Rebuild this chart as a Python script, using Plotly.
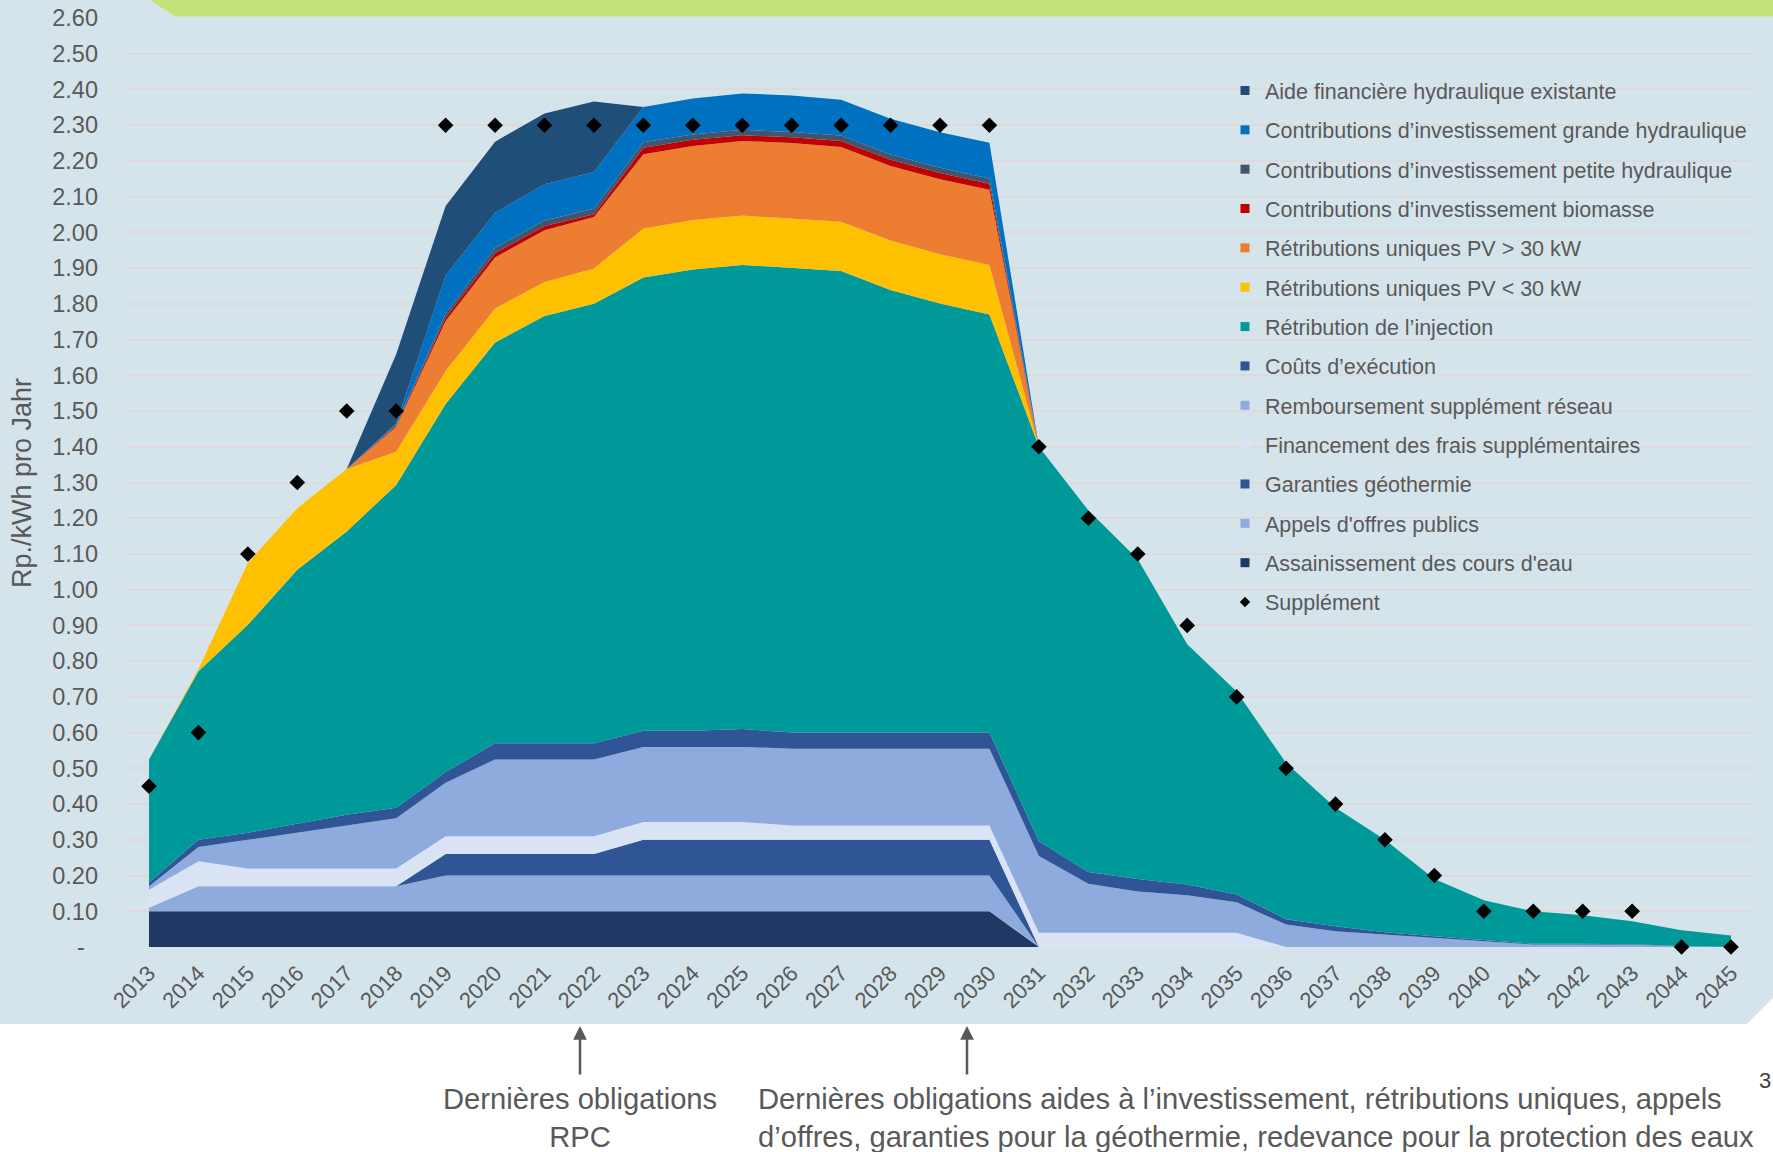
import plotly.graph_objects as go

# ---------------- data ----------------
years = list(range(2013, 2046))

assainissement = [0.10] * 18 + [0] * 15
appels_offres = [0.01, 0.07, 0.07, 0.07, 0.07, 0.07] + [0.10] * 12 + [0] * 15
garanties_geo = [0] * 6 + [0.06] * 4 + [0.10] * 8 + [0] * 15
financement = [0.05, 0.07, 0.05, 0.05, 0.05, 0.05, 0.05, 0.05, 0.05, 0.05, 0.05, 0.05, 0.05,
               0.04, 0.04, 0.04, 0.04, 0.04,
               0.04, 0.04, 0.04, 0.04, 0.04,
               0, 0, 0, 0, 0, 0, 0, 0, 0, 0]
remboursement = [0.01, 0.04, 0.08, 0.10, 0.12, 0.14, 0.15, 0.215, 0.215, 0.215, 0.21, 0.21, 0.21,
                 0.215, 0.215, 0.215, 0.215, 0.215,
                 0.215, 0.137, 0.115, 0.105, 0.085,
                 0.063, 0.044, 0.035, 0.025, 0.015, 0.007, 0.007, 0.006, 0.002, 0]
couts_execution = [0.01, 0.02, 0.02, 0.025, 0.03, 0.03, 0.03, 0.045, 0.045, 0.045, 0.045, 0.045, 0.05,
                   0.045, 0.045, 0.045, 0.045, 0.045,
                   0.041, 0.033, 0.035, 0.03, 0.022,
                   0.015, 0.014, 0.006, 0.005, 0.004, 0.002, 0.002, 0.002, 0.001, 0]
injection = [0.345, 0.472, 0.582, 0.711, 0.793, 0.903, 1.03, 1.122, 1.196, 1.23, 1.269, 1.291, 1.299,
             1.301, 1.292, 1.239, 1.201, 1.17,
             1.104, 1.012, 0.895, 0.672, 0.568,
             0.437, 0.332, 0.259, 0.16, 0.112, 0.091, 0.08, 0.064, 0.044, 0.032]
pv_petit = [0, 0.005, 0.173, 0.172, 0.175, 0.093, 0.092, 0.095, 0.095, 0.099, 0.137, 0.139, 0.138,
            0.138, 0.138, 0.138, 0.138, 0.139] + [0] * 15
pv_grand = [0, 0, 0, 0, 0, 0.07, 0.14, 0.143, 0.145, 0.144, 0.208, 0.207, 0.209,
            0.211, 0.209, 0.209, 0.21, 0.21] + [0] * 15
biomasse = [0, 0, 0, 0, 0, 0.003, 0.01, 0.012, 0.012, 0.008, 0.018, 0.017, 0.016,
            0.016, 0.017, 0.017, 0.017, 0.017] + [0] * 15
petite_hydro = [0, 0, 0, 0, 0, 0.003, 0.01, 0.015, 0.015, 0.015, 0.015, 0.015, 0.015,
                0.015, 0.015, 0.015, 0.015, 0.015] + [0] * 15
grande_hydro = [0, 0, 0, 0, 0, 0.003, 0.107, 0.098, 0.102, 0.103, 0.099, 0.101, 0.102,
                0.102, 0.10, 0.10, 0.099, 0.10] + [0] * 15
aide_hydro = [0, 0, 0, 0, 0, 0.194, 0.195, 0.199, 0.198, 0.197] + [0] * 23
supplement = [0.45, 0.60, 1.10, 1.30, 1.50, 1.50] + [2.30] * 12 + \
             [1.40, 1.20, 1.10, 0.90, 0.70, 0.50, 0.40, 0.30, 0.20, 0.10, 0.10, 0.10, 0.10, 0.0, 0.0]

y_tick_labels = ["-", "0.10", "0.20", "0.30", "0.40", "0.50", "0.60", "0.70", "0.80", "0.90",
                 "1.00", "1.10", "1.20", "1.30", "1.40", "1.50", "1.60", "1.70", "1.80", "1.90",
                 "2.00", "2.10", "2.20", "2.30", "2.40", "2.50", "2.60"]

# stacking order: bottom -> top
series = [
    ("Assainissement des cours d'eau", assainissement, "#203864"),
    ("Appels d'offres publics", appels_offres, "#8FAADC"),
    ("Garanties géothermie", garanties_geo, "#2F5597"),
    ("Financement des frais supplémentaires", financement, "#DAE3F3"),
    ("Remboursement supplément réseau", remboursement, "#8FAADC"),
    ("Coûts d’exécution", couts_execution, "#2F5597"),
    ("Rétribution de l’injection", injection, "#009999"),
    ("Rétributions uniques PV < 30 kW", pv_petit, "#FFC000"),
    ("Rétributions uniques PV > 30 kW", pv_grand, "#ED7D31"),
    ("Contributions d’investissement biomasse", biomasse, "#C00000"),
    ("Contributions d’investissement petite hydraulique", petite_hydro, "#44546A"),
    ("Contributions d’investissement grande hydraulique", grande_hydro, "#0070C0"),
    ("Aide financière hydraulique existante", aide_hydro, "#1F4E79"),
]

# ---------------- geometry ----------------
W, H = 1773, 1152
ML, MR, MT, MB = 126, 19, 18, 205
PW, PH = W - ML - MR, H - MT - MB


def px2x(px):
    return (px - ML) / PW


def py2y(py):
    return (H - MB - py) / PH


GREY = "#595959"
FONT = "Liberation Sans, Arial, sans-serif"

fig = go.Figure()

for name, vals, col in series:
    fig.add_trace(go.Scatter(
        x=years, y=vals, name=name, stackgroup="one", mode="lines",
        line=dict(width=0, color=col), fillcolor=col, showlegend=False,
        hoverinfo="x+y+name",
    ))

fig.add_trace(go.Scatter(
    x=years, y=supplement, name="Supplément", mode="markers", cliponaxis=False,
    marker=dict(symbol="diamond", size=12, color="black"), showlegend=False,
))

# legend entries (top -> bottom)
for i, (name, vals, col) in enumerate(reversed(series)):
    fig.add_trace(go.Scatter(
        x=[None], y=[None], name=name, mode="markers", legendgroup=f"g{i}",
        marker=dict(symbol="square", size=9, color=col),
    ))
fig.add_trace(go.Scatter(
    x=[None], y=[None], name="Supplément", mode="markers", legendgroup="gs",
    marker=dict(symbol="diamond", size=8, color="black"),
))

shapes = [
    dict(type="path", xref="paper", yref="paper", layer="below",
         path=(f"M{px2x(0)},{py2y(0)} L{px2x(W)},{py2y(0)} L{px2x(W)},{py2y(998)} "
               f"L{px2x(1747)},{py2y(1024)} L{px2x(0)},{py2y(1024)} Z"),
         fillcolor="#D5E4EA", line=dict(width=0)),
    dict(type="path", xref="paper", yref="paper", layer="below",
         path=(f"M{px2x(150)},{py2y(0)} L{px2x(W)},{py2y(0)} L{px2x(W)},{py2y(16.5)} "
               f"L{px2x(175)},{py2y(16.5)} Z"),
         fillcolor="#C5E17A", line=dict(width=0)),
]

annotations = [
    dict(text="Rp./kWh pro Jahr", xref="paper", yref="paper", x=px2x(22), y=py2y(483),
         textangle=-90, showarrow=False, xanchor="center", yanchor="middle",
         font=dict(family=FONT, size=27, color=GREY)),
    dict(text="Dernières obligations<br>RPC", xref="paper", yref="paper",
         x=px2x(580), y=py2y(1118), xanchor="center", yanchor="middle", align="center",
         showarrow=False, font=dict(family=FONT, size=29.2, color=GREY)),
    dict(text=("Dernières obligations aides à l’investissement, rétributions uniques, appels<br>"
               "d’offres, garanties pour la géothermie, redevance pour la protection des eaux"),
         xref="paper", yref="paper", x=px2x(756), y=py2y(1118), xanchor="left",
         yanchor="middle", align="left", showarrow=False,
         font=dict(family=FONT, size=29.2, color=GREY)),
    dict(text="", xref="paper", yref="paper", x=px2x(580), y=py2y(1026), ax=0, ay=50,
         showarrow=True, arrowhead=2, arrowsize=1.1, arrowwidth=2.5, arrowcolor=GREY),
    dict(text="", xref="paper", yref="paper", x=px2x(967), y=py2y(1026), ax=0, ay=50,
         showarrow=True, arrowhead=2, arrowsize=1.1, arrowwidth=2.5, arrowcolor=GREY),
    dict(text="3", xref="paper", yref="paper", x=px2x(1772), y=py2y(1080), xanchor="right",
         yanchor="middle", showarrow=False, borderpad=0,
         font=dict(family=FONT, size=22, color="#404040")),
]

fig.update_layout(
    width=W, height=H,
    margin=dict(l=ML, r=MR, t=MT, b=MB, autoexpand=False),
    paper_bgcolor="white", plot_bgcolor="rgba(0,0,0,0)",
    font=dict(family=FONT, color=GREY),
    shapes=shapes, annotations=annotations,
    showlegend=True,
    legend=dict(x=px2x(1225), y=py2y(70), xanchor="left", yanchor="top",
                bgcolor="rgba(0,0,0,0)", traceorder="grouped", tracegroupgap=8.4,
                itemwidth=30, font=dict(family=FONT, size=21.5, color=GREY)),
    xaxis=dict(range=[2012.535, 2045.465], tickmode="array", tickvals=years,
               ticktext=[str(y) for y in years], tickangle=-45, showgrid=False,
               zeroline=False, showline=False, ticks="", ticklabelstandoff=8,
               tickfont=dict(family=FONT, size=22, color=GREY)),
    yaxis=dict(range=[0, 2.6], tickmode="array",
               tickvals=[i / 10 for i in range(len(y_tick_labels))],
               ticktext=[t if t != "-" else "-\u00a0\u00a0" for t in y_tick_labels],
               showgrid=True, gridcolor="#DEDADB", gridwidth=1.5, zeroline=False,
               showline=False, ticks="", ticklabelstandoff=27,
               tickfont=dict(family=FONT, size=23.5, color=GREY)),
    hovermode="closest",
)

fig.write_html("out.html", config={"displayModeBar": False},
               post_script="document.body.style.margin='0';")
